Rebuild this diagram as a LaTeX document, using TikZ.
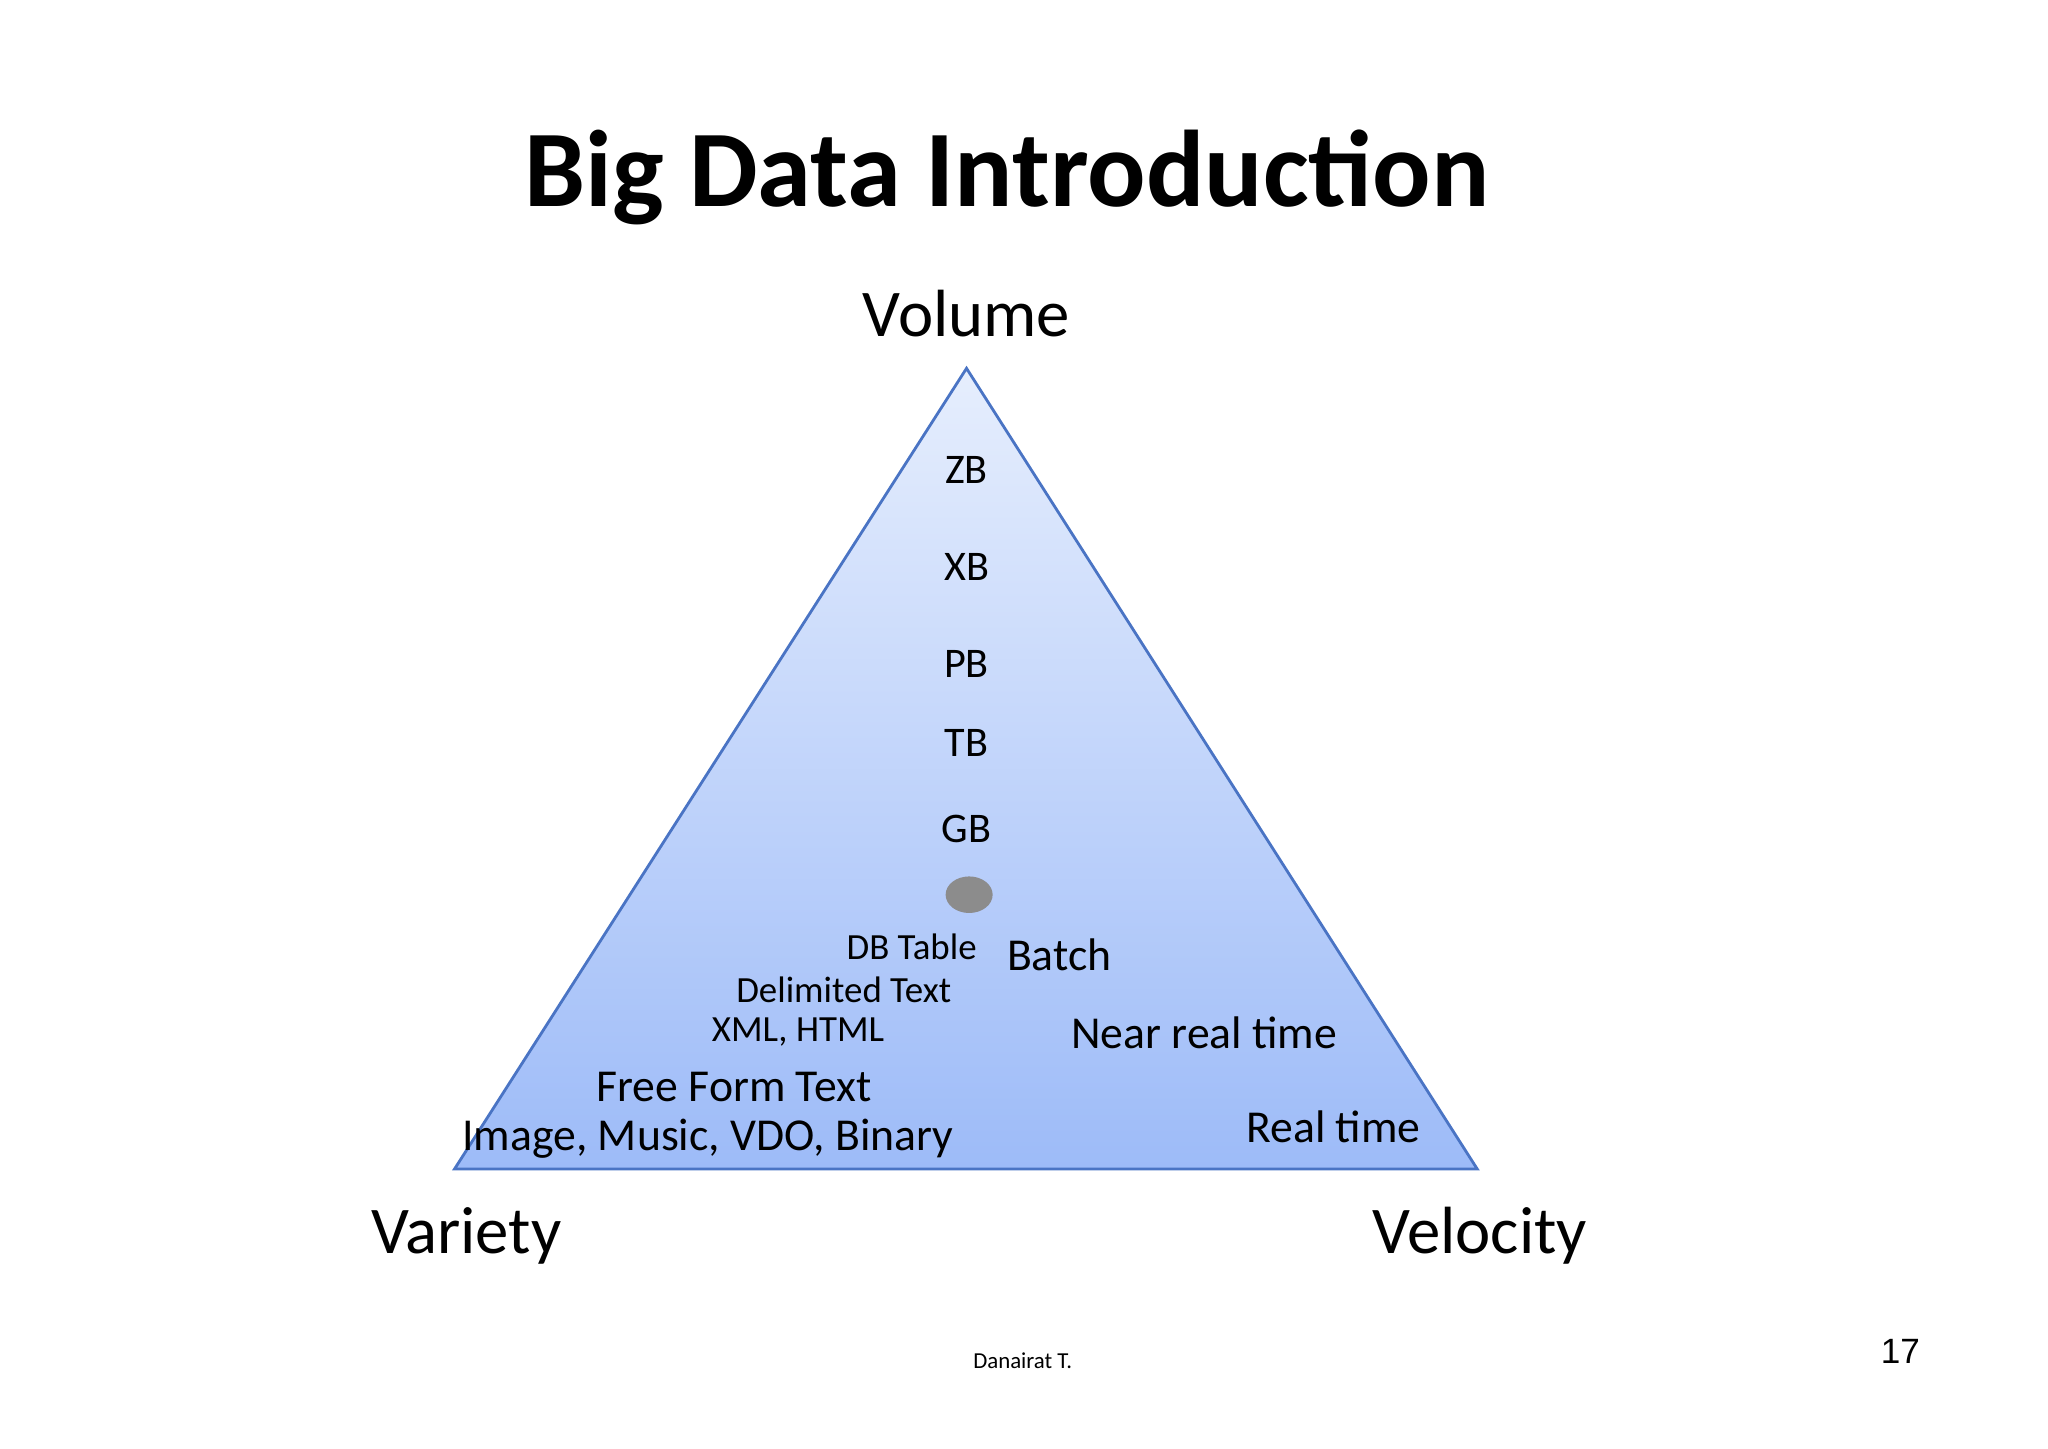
\documentclass[tikz,border=0pt]{standalone}
\usepackage{fontspec}
\setmainfont{Carlito}
\newfontfamily\arialf{Liberation Sans}
\definecolor{topc}{HTML}{E6EEFD}
\definecolor{botc}{HTML}{9DBBF8}
\definecolor{edgec}{HTML}{4A74C4}
\begin{document}
\begin{tikzpicture}[x=0.01306cm,y=-0.01306cm,
  lbl/.style={inner sep=0pt,anchor=center},
  big/.style={lbl,font=\fontsize{19}{22}\selectfont},
  mid/.style={lbl,font=\fontsize{13}{15}\selectfont},
  sml/.style={lbl,font=\fontsize{12}{14}\selectfont},
  tiny/.style={lbl,font=\fontsize{10.5}{12}\selectfont}]
\useasboundingbox (0,0) rectangle (1568,1109);
\node[lbl,font=\fontsize{31}{36}\selectfont\bfseries] (title) at (771,136) {Big Data Introduction};
\coordinate (apex) at (740,282);
\coordinate (bl) at (348,895);
\coordinate (br) at (1131,895);
\shade[top color=topc,bottom color=botc] (apex)--(br)--(bl)--cycle;
\draw[edgec,line width=0.8pt] (apex)--(br)--(bl)--cycle;
\node[big] (vol) at (740,240) {Volume};
\node[big] (var) at (357,946) {Variety};
\node[big] (vel) at (1133,946) {Velocity};
\node[sml] (zb) at (740,360) {ZB};
\node[sml] (xb) at (740,434) {XB};
\node[sml] (pb) at (740,508) {PB};
\node[sml] (tb) at (740,569) {TB};
\node[sml] (gb) at (740,635) {GB};
\fill[gray!90] (742,685) ellipse [x radius=18,y radius=14];
\node[tiny] (db) at (698,725) {DB Table};
\node[tiny] (dt) at (646,758) {Delimited Text};
\node[tiny] (xml) at (611,790) {XML, HTML};
\node[mid] (fft) at (562,832) {Free Form Text};
\node[mid] (img) at (542,872) {Image, Music, VDO, Binary};
\node[mid] (batch) at (811,731) {Batch};
\node[mid] (nrt) at (922,791) {Near real time};
\node[mid] (rt) at (1021,863) {Real time};
\node[lbl,font=\fontsize{6.5}{8}\selectfont] (auth) at (783,1042) {Danairat T.};
\node[lbl,font=\arialf\fontsize{10}{12}\selectfont] (pg) at (1455,1035) {17};
\end{tikzpicture}
\end{document}
